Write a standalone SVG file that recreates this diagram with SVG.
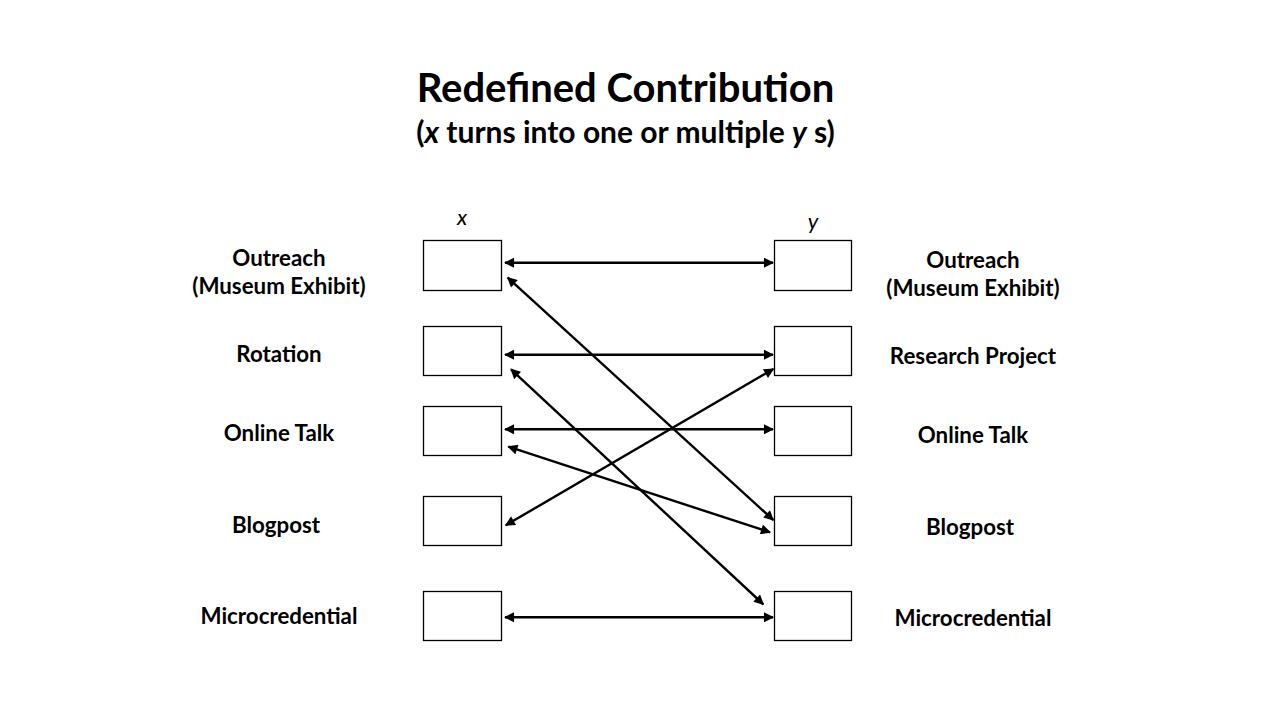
<svg xmlns="http://www.w3.org/2000/svg" width="1280" height="720" viewBox="0 0 1280 720">
<style>
.t{font-family:Lato,"Liberation Sans",sans-serif;font-weight:bold;fill:#000;text-anchor:middle}
.lbl{font-size:22.3px}
.box{fill:#fff;stroke:#000;stroke-width:1.3}
.c{stroke:#000;stroke-width:2.4;fill:none;marker-start:url(#ah);marker-end:url(#ah)}
.v{font-family:Lato,"Liberation Sans",sans-serif;font-style:italic;font-size:22px;text-anchor:middle}
</style>
<defs>
<marker id="ah" viewBox="0 0 10 10" refX="9" refY="5" markerWidth="4.8" markerHeight="4.2" orient="auto-start-reverse" markerUnits="strokeWidth">
<path d="M0,0 L10,5 L0,10 z" fill="#000"/>
</marker>
</defs>
<rect width="1280" height="720" fill="#fff"/>
<g id="title">
<text class="t" x="625.5" y="102" font-size="40">Redefined Contribution</text>
<text class="t" x="625.5" y="143" font-size="30">(<tspan font-style="italic">x</tspan> turns into one or multiple <tspan font-style="italic">y</tspan> s)</text>
</g>
<text class="v" x="462" y="225">x</text>
<text class="v" x="813" y="229">y</text>
<g id="x1"><rect class="box" x="423.5" y="240.5" width="78" height="50"/><text class="t lbl" x="279" y="266">Outreach</text><text class="t lbl" x="279" y="294">(Museum Exhibit)</text></g>
<g id="x2"><rect class="box" x="423.5" y="326.5" width="78" height="49"/><text class="t lbl" x="279" y="362">Rotation</text></g>
<g id="x3"><rect class="box" x="423.5" y="406.5" width="78" height="49"/><text class="t lbl" x="279" y="441">Online Talk</text></g>
<g id="x4"><rect class="box" x="423.5" y="496.5" width="78" height="49"/><text class="t lbl" x="276" y="533">Blogpost</text></g>
<g id="x5"><rect class="box" x="423.5" y="591.5" width="78" height="49"/><text class="t lbl" x="279" y="624">Microcredential</text></g>
<g id="y1"><rect class="box" x="774.5" y="240.5" width="77" height="50"/><text class="t lbl" x="973" y="268">Outreach</text><text class="t lbl" x="973" y="296">(Museum Exhibit)</text></g>
<g id="y2"><rect class="box" x="774.5" y="326.5" width="77" height="49"/><text class="t lbl" x="973" y="364">Research Project</text></g>
<g id="y3"><rect class="box" x="774.5" y="406.5" width="77" height="49"/><text class="t lbl" x="973" y="443">Online Talk</text></g>
<g id="y4"><rect class="box" x="774.5" y="496.5" width="77" height="49"/><text class="t lbl" x="970" y="535">Blogpost</text></g>
<g id="y5"><rect class="box" x="774.5" y="591.5" width="77" height="49"/><text class="t lbl" x="973" y="626">Microcredential</text></g>
<g id="connectors">
<line class="c" x1="505" y1="262.7" x2="773" y2="262.7"/>
<line class="c" x1="505" y1="354.7" x2="773" y2="354.7"/>
<line class="c" x1="505" y1="429.3" x2="773" y2="429.3"/>
<line class="c" x1="505" y1="617.3" x2="773" y2="617.3"/>
<line class="c" x1="507.7" y1="277.7" x2="773.3" y2="520"/>
<line class="c" x1="511" y1="369.3" x2="763.3" y2="604.3"/>
<line class="c" x1="505.7" y1="525.3" x2="773.3" y2="369"/>
<line class="c" x1="508.3" y1="446.7" x2="770" y2="532.3"/>
</g>
</svg>
